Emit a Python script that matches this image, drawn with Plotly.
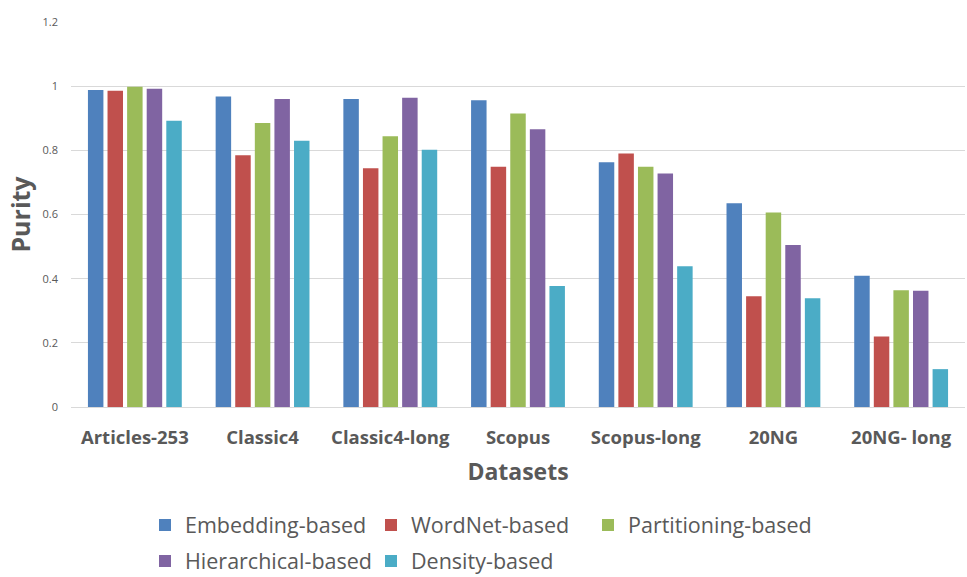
import plotly.graph_objects as go

# Purity of each clustering approach on the benchmark datasets
datasets = ["Articles-253", "Classic4", "Classic4-long", "Scopus",
            "Scopus-long", "20NG", "20NG- long"]

embedding = [0.988, 0.968, 0.960, 0.956, 0.763, 0.635, 0.409]
wordnet = [0.986, 0.785, 0.744, 0.749, 0.790, 0.345, 0.220]
partitioning = [0.998, 0.885, 0.844, 0.915, 0.749, 0.606, 0.364]
hierarchical = [0.992, 0.960, 0.964, 0.866, 0.728, 0.505, 0.362]
density = [0.892, 0.830, 0.802, 0.377, 0.439, 0.339, 0.118]

series_names = ["Embedding-based", "WordNet-based", "Partitioning-based",
                "Hierarchical-based", "Density-based"]
series_values = [embedding, wordnet, partitioning, hierarchical, density]
series_colors = ["#4f81bd", "#c0504d", "#9bbb59", "#8064a2", "#4bacc6"]
# first row of the key holds three entries, the second row two
series_legend = ["legend", "legend", "legend", "legend2", "legend2"]
series_entry_w = [181, 172, 200, 181, 200]

y_ticks = [0, 0.2, 0.4, 0.6, 0.8, 1.0, 1.2]
y_tick_text = ["0", "0.2", "0.4", "0.6", "0.8", "1", "1.2"]

FONT = "Open Sans, Segoe UI, Liberation Sans, sans-serif"
GREY = "#595959"

fig = go.Figure()
for name, vals, color, lg, ew in zip(series_names, series_values,
                                     series_colors, series_legend,
                                     series_entry_w):
    fig.add_trace(go.Bar(
        name=name, x=datasets, y=vals,
        marker=dict(color=color, line=dict(width=0)),
        legend=lg, legendwidth=ew,
    ))

legend_common = dict(
    orientation="h", xref="container", yref="container",
    xanchor="left", yanchor="middle",
    font=dict(size=21.5, color=GREY), itemclick=False,
    bgcolor="rgba(0,0,0,0)",
)

fig.update_layout(
    width=967, height=577,
    margin=dict(l=71, r=2, t=22, b=170),
    paper_bgcolor="white", plot_bgcolor="white",
    font=dict(family=FONT, color=GREY),
    barmode="group", bargap=0.233, bargroupgap=0.21,
    legend=dict(x=145 / 967, y=1 - 525 / 577, **legend_common),
    legend2=dict(x=145 / 967, y=1 - 561 / 577, **legend_common),
    xaxis=dict(
        showgrid=False, showline=False, ticks="",
        tickfont=dict(size=18.5, color=GREY, family=FONT, weight="bold"),
        ticklabelstandoff=17,
        title=dict(text="<b>Datasets</b>", standoff=16,
                   font=dict(size=23, color=GREY)),
    ),
    yaxis=dict(
        range=[0, 1.2], tickvals=y_ticks, ticktext=y_tick_text,
        showgrid=True, gridcolor="#d9d9d9", gridwidth=1.3,
        zeroline=True, zerolinecolor="#d9d9d9", zerolinewidth=1.3,
        showline=False, ticks="",
        tickfont=dict(size=11, color=GREY), ticklabelstandoff=12,
        title=dict(text="<b>Purity</b>", standoff=4,
                   font=dict(size=25, color=GREY)),
    ),
)

fig.write_html("out.html")
